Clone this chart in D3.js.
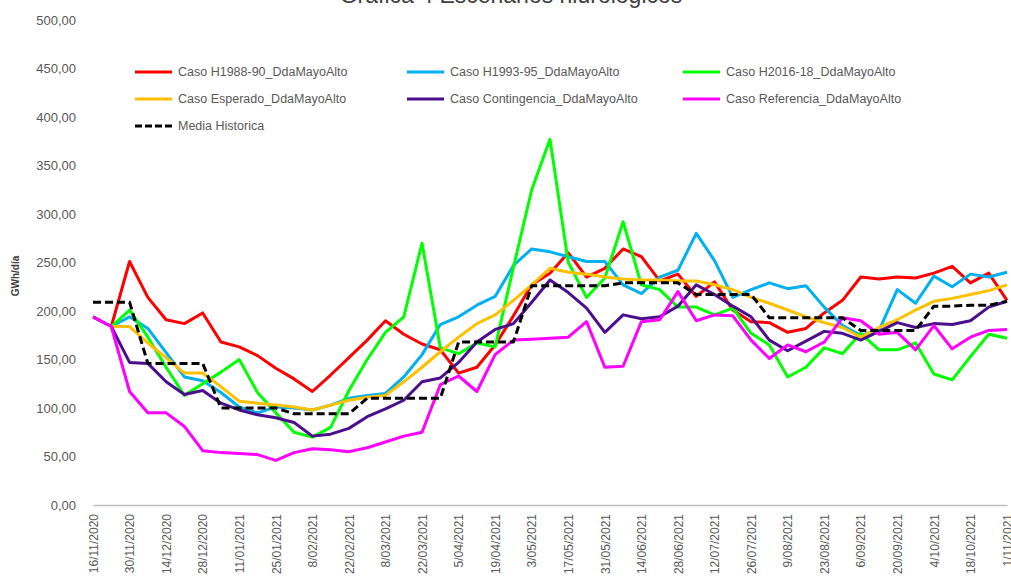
<!DOCTYPE html>
<html>
<head>
	<meta charset="utf-8">
	<script src="https://cdn.jsdelivr.net/npm/d3@7"></script>
	<style>
		html, body {
			padding: 0;
			margin: 0;
			background: white;
		}
		svg text {
			font-family: "Liberation Sans", Arial, sans-serif;
		}
	</style>
</head>
<body>
	<div id="chart"></div>

	<script>
		// weekly categories
		var weeks = ["16/11/2020","23/11/2020","30/11/2020","7/12/2020","14/12/2020","21/12/2020","28/12/2020",
			"4/01/2021","11/01/2021","18/01/2021","25/01/2021","1/02/2021","8/02/2021","15/02/2021","22/02/2021",
			"1/03/2021","8/03/2021","15/03/2021","22/03/2021","29/03/2021","5/04/2021","12/04/2021","19/04/2021",
			"26/04/2021","3/05/2021","10/05/2021","17/05/2021","24/05/2021","31/05/2021","7/06/2021","14/06/2021",
			"21/06/2021","28/06/2021","5/07/2021","12/07/2021","19/07/2021","26/07/2021","2/08/2021","9/08/2021",
			"16/08/2021","23/08/2021","30/08/2021","6/09/2021","13/09/2021","20/09/2021","27/09/2021","4/10/2021",
			"11/10/2021","18/10/2021","25/10/2021","1/11/2021"];

		var tickLabels = ["16/11/2020","30/11/2020","14/12/2020","28/12/2020","11/01/2021","25/01/2021",
			"8/02/2021","22/02/2021","8/03/2021","22/03/2021","5/04/2021","19/04/2021","3/05/2021","17/05/2021",
			"31/05/2021","14/06/2021","28/06/2021","12/07/2021","26/07/2021","9/08/2021","23/08/2021","6/09/2021",
			"20/09/2021","4/10/2021","18/10/2021","1/11/2021"];

		var yTicks = [0, 50, 100, 150, 200, 250, 300, 350, 400, 450, 500];

		// GWh/dia per week
		var h1988 = [null,184,251,214,191,187,198,168,163,154,141,130,117,134,152,170,190,176,166,160,136,142,165,195,227,239,260,235,244,264,256,231,238,215,230,201,189,188,178,182,198,211,235,233,235,234,239,246,229,239,211];
		var h1993 = [null,184,194,182,157,132,128,116,101,95,101,100,98,103,110,113,115,132,155,186,194,206,215,247,264,261,256,251,251,227,218,235,242,280,252,214,222,229,223,226,204,185,175,180,222,208,236,225,238,235,240];
		var h2016 = [null,184,201,173,142,113,125,137,150,116,95,75,70,80,118,150,178,194,270,162,156,167,163,245,325,377,250,214,234,292,227,222,204,204,196,203,177,165,132,142,162,156,177,160,160,167,135,129,153,176,172];
		var esperado = [null,184,184,167,152,136,136,122,107,105,103,101,98,103,108,111,113,127,142,158,173,187,196,211,227,244,240,238,235,233,232,232,231,231,227,222,214,208,201,194,188,183,173,183,191,201,210,213,217,221,227];
		var contingencia = [194,184,147,146,127,114,118,105,98,93,90,85,71,73,79,91,99,108,127,131,147,168,181,187,209,232,219,203,178,196,192,194,205,227,217,205,194,170,159,169,179,177,170,179,188,183,187,186,190,204,210];
		var referencia = [194,184,117,95,95,81,56,54,53,52,46,54,58,57,55,59,65,71,75,124,133,117,155,170,171,172,173,189,142,143,189,191,220,190,196,195,170,151,165,158,168,193,190,176,178,160,185,161,173,180,181];
		var mediaHist = [209,209,209,146,146,146,146,100,100,100,100,94,94,94,94,110,110,110,110,110,168,168,168,168,226,226,226,226,226,229,229,229,229,217,217,217,217,193,193,193,193,193,180,180,180,180,205,205,206,206,210];

		var seriesNames = ["Caso H1988-90_DdaMayoAlto", "Caso H1993-95_DdaMayoAlto", "Caso H2016-18_DdaMayoAlto",
			"Caso Esperado_DdaMayoAlto", "Caso Contingencia_DdaMayoAlto", "Caso Referencia_DdaMayoAlto", "Media Historica"];
		var seriesColors = ["#FF0000", "#00B0F0", "#00FF00", "#FFC000", "#4B0F8C", "#FF00FF", "#000000"];
		var seriesValues = [h1988, h1993, h2016, esperado, contingencia, referencia, mediaHist];

		var series = seriesNames.map(function(n, i) {
			return {name: n, color: seriesColors[i], values: seriesValues[i], dashed: n == "Media Historica"};
		});

		var width = 1011, height = 581;

		var svg = d3.select('#chart').append('svg')
			.attr('width', width)
			.attr('height', height)
			.style('display', 'block');

		var x = d3.scalePoint().domain(weeks).range([93, 1007]);
		var y = d3.scaleLinear().domain([0, 500]).range([505, 20]);

		var locale = d3.formatLocale({decimal: ",", thousands: ".", grouping: [3], currency: ["$", ""]});
		var fmt = locale.format(".2f");

		// title, cut off at the top like the original
		svg.append("text")
			.attr("x", 511)
			.attr("y", 3)
			.attr("text-anchor", "middle")
			.style("font-size", "23px")
			.style("fill", "#404040")
			.text("Gráfica 4 Escenarios hidrológicos");

		// y axis
		var yAxis = svg.append("g")
			.attr("transform", "translate(76,0)")
			.call(d3.axisLeft(y).tickValues(yTicks).tickSize(0).tickPadding(0).tickFormat(fmt));
		yAxis.select(".domain").remove();
		yAxis.selectAll("text")
			.style("font-size", "13px")
			.style("fill", "#595959")
			.style("font-family", "'Liberation Sans', Arial, sans-serif");

		svg.append("text")
			.attr("transform", "translate(19,276) rotate(-90)")
			.attr("text-anchor", "middle")
			.style("font-size", "10px")
			.style("font-weight", "bold")
			.style("fill", "#404040")
			.text("GWh/día");

		// x axis
		var xAxis = svg.append("g")
			.attr("transform", "translate(0,505)")
			.call(d3.axisBottom(x).tickValues(tickLabels).tickSize(0).tickPadding(0));
		xAxis.select(".domain").attr("stroke", "#BFBFBF").attr("stroke-width", 1.5);
		xAxis.selectAll("text")
			.attr("transform", "rotate(-90)")
			.attr("x", -9)
			.attr("y", 0)
			.attr("dy", "0.35em")
			.attr("text-anchor", "end")
			.style("font-size", "12px")
			.style("fill", "#595959")
			.style("font-family", "'Liberation Sans', Arial, sans-serif");

		// lines
		var line = d3.line()
			.defined(function(d) { return d != null; })
			.x(function(d, i) { return x(weeks[i]); })
			.y(function(d) { return y(d); });

		svg.selectAll("path.series")
			.data(series)
			.enter().append("path")
			.attr("class", "series")
			.attr("fill", "none")
			.attr("stroke", function(d) { return d.color; })
			.attr("stroke-width", 3)
			.attr("stroke-linejoin", "round")
			.attr("stroke-dasharray", function(d) { return d.dashed ? "8,4" : null; })
			.attr("d", function(d) { return line(d.values); });

		// legend
		var legX = [135, 407, 683];
		var legY = [72, 99, 126];
		var leg = svg.selectAll("g.leg")
			.data(series)
			.enter().append("g")
			.attr("class", "leg")
			.attr("transform", function(d, i) {
				return "translate(" + legX[i % 3] + "," + legY[Math.floor(i / 3)] + ")";
			});
		leg.append("line")
			.attr("x1", 0).attr("x2", 37)
			.attr("stroke", function(d) { return d.color; })
			.attr("stroke-width", 3)
			.attr("stroke-dasharray", function(d) { return d.dashed ? "7,3" : null; });
		leg.append("text")
			.attr("x", 43)
			.attr("dy", "0.35em")
			.style("font-size", "12.5px")
			.style("fill", "#595959")
			.text(function(d) { return d.name; });
	</script>
</body>
</html>
